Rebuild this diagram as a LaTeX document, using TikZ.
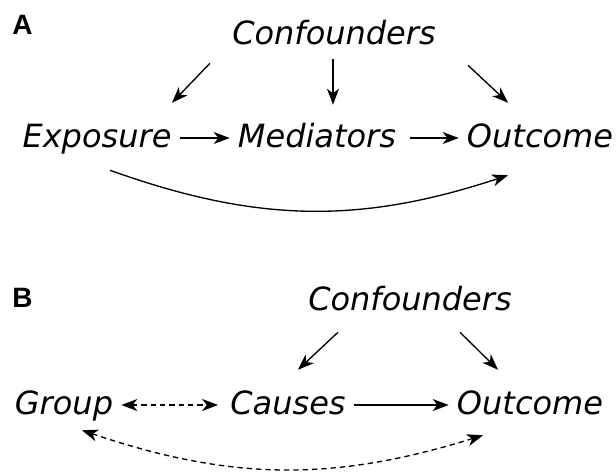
\documentclass[tikz,border=0pt]{standalone}
\usepackage{fontspec}
\setmainfont{DejaVu Sans}
\newfontfamily\panelfont{Liberation Sans}
\usetikzlibrary{positioning}
\usetikzlibrary{arrows.meta}

\begin{document}
\begin{tikzpicture}[x=0.75pt, y=-0.75pt, node distance=1cm]
    \tikzstyle{var} = [inner xsep=6pt, inner ysep=0pt, anchor=base,
    text height=13.5pt, text depth=0pt, font=\fontsize{24}{28}\selectfont\itshape];
    \tikzstyle{panel} = [inner sep=0pt, anchor=base west,
    font=\fontsize{21}{24}\panelfont\bfseries\selectfont];
    \tikzstyle{line} = [-{Stealth[length=12pt, width=9pt, inset=3.5pt]}, line width=1pt];
    \tikzstyle{both} = [{Stealth[length=12pt, width=9pt, inset=3.5pt]}-{Stealth[length=12pt, width=9pt, inset=3.5pt]},
    dash pattern=on 4pt off 3pt, line width=1pt];
    \useasboundingbox (0,0) rectangle (616,471);
    % panel A
    \node [panel] (la) at (12,34) {A};
    \node [var] (confa) at (334,44) {Confounders};
    \node [var] (expo) at (97,147) {Exposure};
    \node [var] (med) at (317,147) {Mediators};
    \node [var] (outa) at (540,147) {Outcome};
    \draw[line] ([shift={(-124,19)}]confa.south) -- ([shift={(75,-26)}]expo.north);
    \draw[line] ([shift={(-1,15)}]confa.south) -- ([shift={(16,-24)}]med.north);
    \draw[line] ([shift={(134,21)}]confa.south) -- ([shift={(-32,-26)}]outa.north);
    \draw[line] (expo.east) -- (med.west);
    \draw[line, shorten <=4pt] (med.east) -- (outa.west);
    \draw[line] ([shift={(13,23)}]expo.south) to[bend right=19] ([shift={(-32,28)}]outa.south);
    % panel B
    \node [panel] (lb) at (12,307) {B};
    \node [var] (confb) at (410,310) {Confounders};
    \node [var] (group) at (64,414) {Group};
    \node [var] (causes) at (288,414) {Causes};
    \node [var] (outb) at (530,414) {Outcome};
    \draw[line] ([shift={(-72,22)}]confb.south) -- ([shift={(10,-26)}]causes.north);
    \draw[line] ([shift={(50,22)}]confb.south) -- ([shift={(-32,-26)}]outb.north);
    \draw[both, shorten >=3pt] (group.east) -- (causes.west);
    \draw[line] (causes.east) -- (outb.west);
    \draw[both] ([shift={(18,16)}]group.south) to[bend right=18] ([shift={(-47,21)}]outb.south);
\end{tikzpicture}
\end{document}
